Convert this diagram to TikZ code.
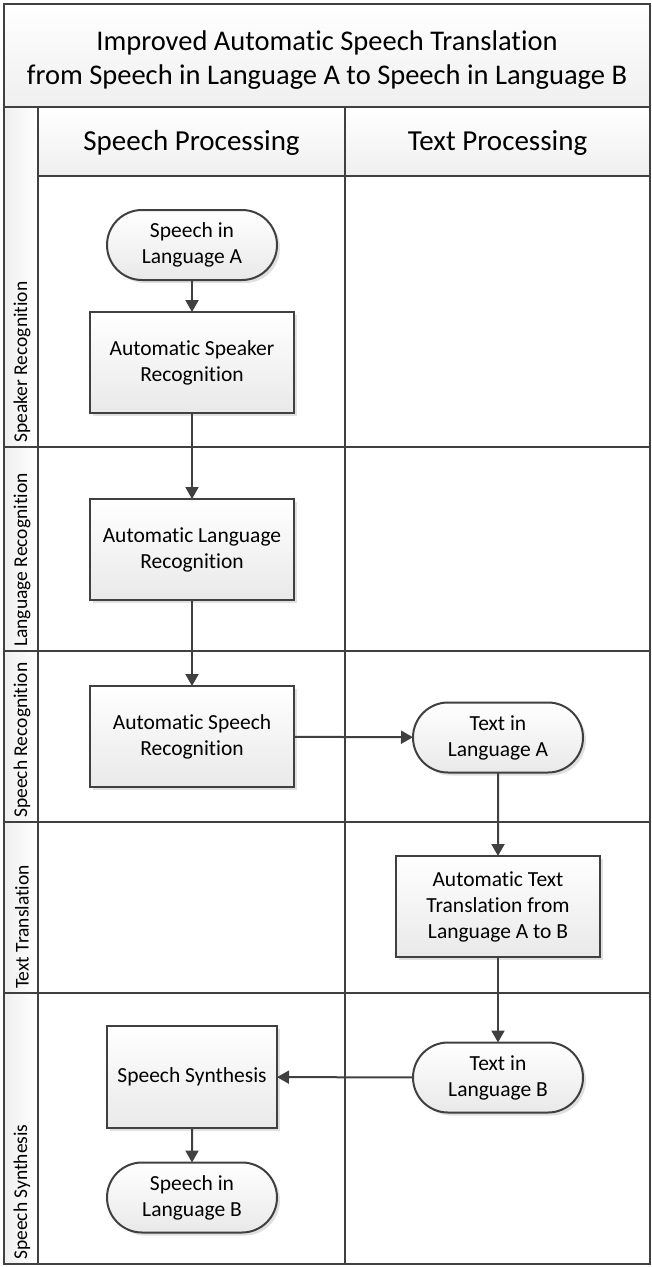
\documentclass[tikz,border=0pt]{standalone}
\usepackage{fontspec}
\setmainfont{Carlito}[Ligatures=CommonOff]
\usetikzlibrary{shapes.misc,arrows.meta,shadows}
\definecolor{ln}{HTML}{404040}
\definecolor{shadegray}{HTML}{E9E9E9}
\definecolor{hdrgray}{HTML}{EFEFEF}

\tikzset{
  frame/.style={draw=ln, line width=2.2pt},
  grid/.style={draw=ln, line width=1.7pt},
  flowbox/.style={draw=ln, line width=2pt, top color=white, bottom color=shadegray,
    align=center, font=\fontsize{21.5}{26}\selectfont, inner sep=0pt, outer sep=0pt,
    drop shadow={shadow xshift=3pt, shadow yshift=-3pt, fill=black, opacity=0.12}},
  procbox/.style={flowbox, rectangle, minimum width=204pt, minimum height=101pt},
  termbox/.style={flowbox, rounded rectangle, minimum width=170pt, minimum height=70pt},
  flow/.style={draw=ln, line width=2pt, -{Triangle[length=12pt, width=13pt]}},
  titletext/.style={align=center, font=\fontsize{28.5}{34}\selectfont},
  headtext/.style={font=\fontsize{29}{34}\selectfont},
  lanetext/.style={rotate=90, anchor=west, inner sep=0pt, font=\fontsize{19.5}{23}\selectfont},
}

\begin{document}
\begin{tikzpicture}[x=1pt, y=-1pt]
\useasboundingbox (0,0) rectangle (652,1267);

% backgrounds of title, column headers and lane label column
\shade[top color=white, bottom color=hdrgray] (4,4) rectangle (650,107);
\shade[top color=white, bottom color=hdrgray] (38,107) rectangle (650,176);
\shade[left color=hdrgray, right color=white] (4,107) rectangle (38,1264);

% grid of the swimlanes
\draw[grid] (4,107) -- (650,107);
\draw[grid] (38,176) -- (650,176);
\draw[grid] (4,447) -- (650,447);
\draw[grid] (4,651) -- (650,651);
\draw[grid] (4,822) -- (650,822);
\draw[grid] (4,993) -- (650,993);
\draw[grid] (38,107) -- (38,1264);
\draw[grid] (345,107) -- (345,1264);
\draw[frame] (4,4) rectangle (650,1264);

% title and column headers
\node[titletext] (title) at (327,60) {Improved Automatic Speech Translation\\from Speech in Language A to Speech in Language B};
\node[headtext] (colA) at (191.5,143) {Speech Processing};
\node[headtext] (colB) at (497.5,143) {Text Processing};

% lane labels, set from the bottom of each lane
\node[lanetext] (laneA) at (22,443) {Speaker Recognition};
\node[lanetext] (laneB) at (22,647) {Language Recognition};
\node[lanetext] (laneC) at (22,818) {Speech Recognition};
\node[lanetext] (laneD) at (22,989) {Text Translation};
\node[lanetext] (laneE) at (22,1260) {Speech Synthesis};

% flow steps
\node[termbox] (sa) at (192,245) {Speech in\\Language A};
\node[procbox] (asr) at (192,362.5) {Automatic Speaker\\Recognition};
\node[procbox] (alr) at (192,549.5) {Automatic Language\\Recognition};
\node[procbox] (spr) at (192,736.5) {Automatic Speech\\Recognition};
\node[termbox] (ta) at (498,737.5) {Text in\\Language A};
\node[procbox] (att) at (498,906.5) {Automatic Text\\Translation from\\Language A to B};
\node[termbox] (tb) at (498,1077.5) {Text in\\Language B};
\node[procbox, minimum width=170pt, minimum height=102pt] (ss) at (192,1077) {Speech Synthesis};
\node[termbox] (sb) at (192,1197.5) {Speech in\\Language B};

% connectors
\draw[flow] (sa) -- (asr);
\draw[flow] (asr) -- (alr);
\draw[flow] (alr) -- (spr);
\draw[flow] (spr) -- (ta);
\draw[flow] (ta) -- (att);
\draw[flow] (att) -- (tb);
\draw[flow] (tb) -- (ss);
\draw[flow] (ss) -- (sb);
\end{tikzpicture}
\end{document}
